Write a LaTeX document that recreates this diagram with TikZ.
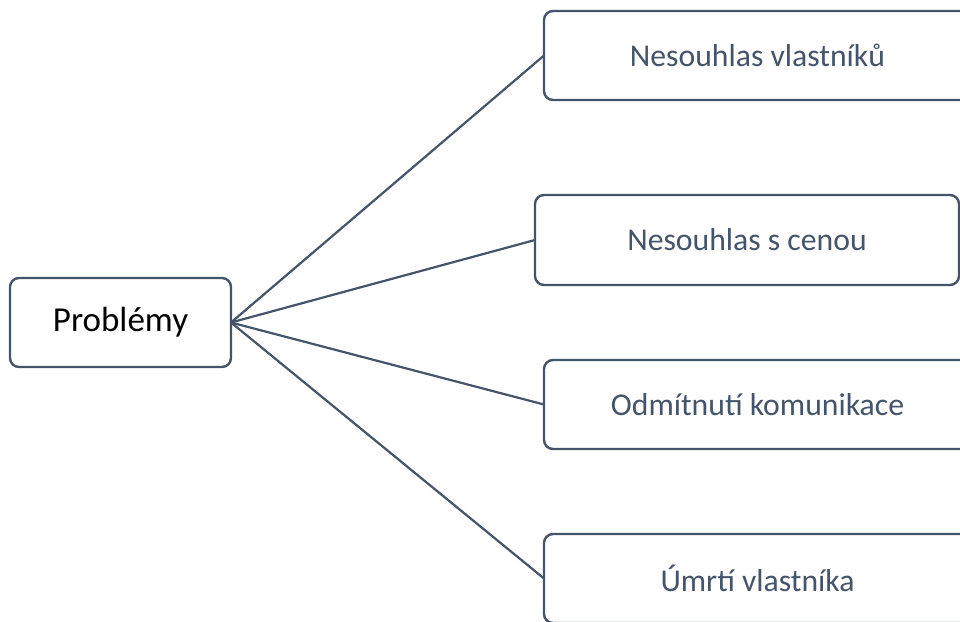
\documentclass[tikz,border=0pt]{standalone}
\usepackage{fontspec}
\setmainfont{Carlito}
\definecolor{slate}{HTML}{44546A}
\begin{document}
\begin{tikzpicture}[x=1pt,y=-1pt,
  box/.style={draw=slate,line width=2.4pt,rounded corners=9pt,fill=white},
  btext/.style={text=slate,font=\fontsize{31.7}{36}\selectfont,anchor=center},
  conn/.style={draw=slate,line width=2.2pt}]
\useasboundingbox (0,0) rectangle (960,621);
\clip (0,0) rectangle (960,621);
% root
\draw[box] (10,278) rectangle (231,367);
\node[font=\fontsize{35}{40}\selectfont,text=black] (root) at (120.5,322.5) {Problémy};
\coordinate (rootR) at (231,322.5);
% boxes
\draw[box] (544,11) rectangle (971,100);
\node[btext] (b1) at (757.5,55.5) {Nesouhlas vlastníků};
\coordinate (b1L) at (544,55.5);
\draw[box] (535,195) rectangle (959,285);
\node[btext] (b2) at (747,240) {Nesouhlas s cenou};
\coordinate (b2L) at (535,240);
\draw[box] (544,360) rectangle (971,449);
\node[btext] (b3) at (757.5,404.5) {Odmítnutí komunikace};
\coordinate (b3L) at (544,404.5);
\draw[box] (544,534) rectangle (971,623);
\node[btext] (b4) at (757.5,578.5) {Úmrtí vlastníka};
\coordinate (b4L) at (544,578.5);
% connectors
\draw[conn] (rootR) -- (b1L);
\draw[conn] (rootR) -- (b2L);
\draw[conn] (rootR) -- (b3L);
\draw[conn] (rootR) -- (b4L);
\end{tikzpicture}
\end{document}
